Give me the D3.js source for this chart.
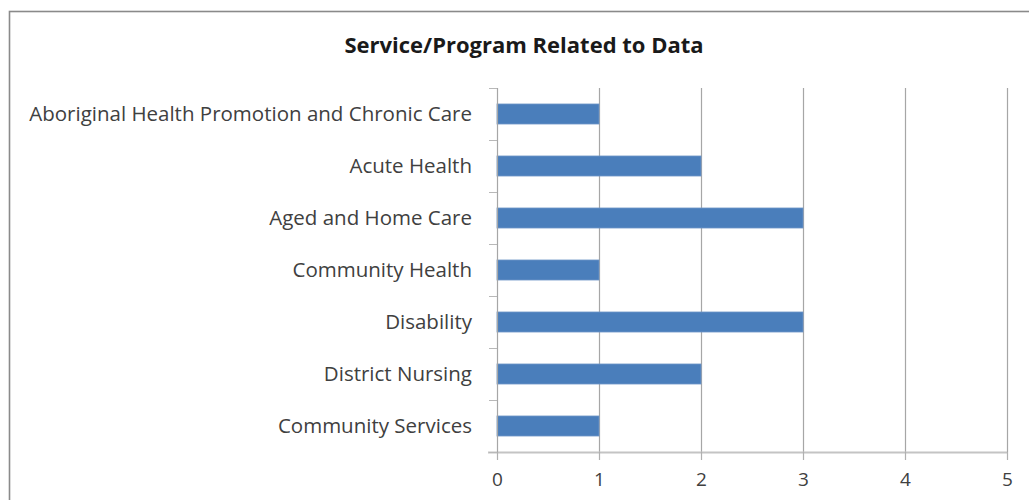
<!DOCTYPE html>
<html>
<head>
<meta charset="utf-8">
<script src="https://cdn.jsdelivr.net/npm/d3@7"></script>
<style>
  html, body { margin: 0; padding: 0; background: #fff; }
  svg { display: block; }
</style>
</head>
<body>
<svg id="chart" width="1029" height="500"></svg>
<script>
// Services / programs and the count of data items related to each
const categories = [
  "Aboriginal Health Promotion and Chronic Care",
  "Acute Health",
  "Aged and Home Care",
  "Community Health",
  "Disability",
  "District Nursing",
  "Community Services"
];
const counts = [1, 2, 3, 1, 3, 2, 1];
const xTicks = [0, 1, 2, 3, 4, 5];
const chartTitle = "Service/Program Related to Data";

const svg = d3.select("#chart");
const W = 1029, H = 500;
const plot = { left: 497, right: 1007, top: 88, bottom: 452 };
const font = "'Open Sans', 'Noto Sans', sans-serif";

svg.append("rect").attr("width", W).attr("height", H).attr("fill", "#fff");

// chart frame (runs past the right and bottom edges)
svg.append("rect")
  .attr("x", 9.5).attr("y", 11.5)
  .attr("width", W + 20).attr("height", H + 20)
  .attr("fill", "none")
  .attr("stroke", "#8a8a8a")
  .attr("stroke-width", 1.6);

const x = d3.scaleLinear().domain([0, 5]).range([plot.left, plot.right]);
const y = d3.scaleBand().domain(categories)
  .range([plot.top, plot.bottom])
  .paddingInner(0.615).paddingOuter(0.3075);

// vertical gridlines
svg.append("g")
  .selectAll("line")
  .data(xTicks.filter(d => d > 0))
  .join("line")
  .attr("x1", d => Math.round(x(d)) + 0.5).attr("x2", d => Math.round(x(d)) + 0.5)
  .attr("y1", plot.top).attr("y2", plot.bottom)
  .attr("stroke", "#a6a6a6").attr("stroke-width", 1.2);

// bars
svg.append("g")
  .selectAll("rect")
  .data(categories)
  .join("rect")
  .attr("x", x(0))
  .attr("y", d => y(d))
  .attr("width", (d, i) => x(counts[i]) - x(0))
  .attr("height", y.bandwidth())
  .attr("fill", "#4a7ebb")
  .attr("stroke", "#6f97c8")
  .attr("stroke-width", 0.8);

// bottom axis
const xAxis = svg.append("g")
  .attr("transform", `translate(0,${plot.bottom})`)
  .call(d3.axisBottom(x).tickValues(xTicks).tickSize(8).tickPadding(13).tickFormat(d3.format("d")));
xAxis.select(".domain").attr("stroke", "#c4c4c4").attr("stroke-width", 2)
  .attr("d", `M${plot.left - 9},0.5H${plot.right}`);
xAxis.selectAll(".tick line").attr("stroke", "#b0b0b0").attr("stroke-width", 1.2);
xAxis.selectAll(".tick text")
  .attr("fill", "#404040")
  .style("font-family", font).style("font-size", "19px");

// left axis: ticks sit on the category boundaries
const bounds = d3.range(categories.length + 1).map(i => plot.top + i * y.step());
const yAxis = svg.append("g");
yAxis.append("line")
  .attr("x1", plot.left + 0.5).attr("x2", plot.left + 0.5)
  .attr("y1", plot.top).attr("y2", plot.bottom)
  .attr("stroke", "#a6a6a6").attr("stroke-width", 1.2);
yAxis.selectAll("line.tk")
  .data(bounds)
  .join("line").attr("class", "tk")
  .attr("x1", plot.left - 8).attr("x2", plot.left)
  .attr("y1", d => Math.round(d) + 0.5).attr("y2", d => Math.round(d) + 0.5)
  .attr("stroke", "#b8b8b8").attr("stroke-width", 1);

// category labels
svg.append("g")
  .selectAll("text")
  .data(categories)
  .join("text")
  .attr("x", plot.left - 25)
  .attr("y", d => y(d) + y.bandwidth() / 2)
  .attr("dy", "0.35em")
  .attr("text-anchor", "end")
  .attr("fill", "#404040")
  .style("font-family", font).style("font-size", "20.5px")
  .text(d => d);

// title
svg.append("text")
  .attr("x", 524).attr("y", 53)
  .attr("text-anchor", "middle")
  .attr("fill", "#1a1a1a")
  .style("font-family", font).style("font-size", "22px").style("font-weight", "bold")
  .text(chartTitle);
</script>
</body>
</html>
